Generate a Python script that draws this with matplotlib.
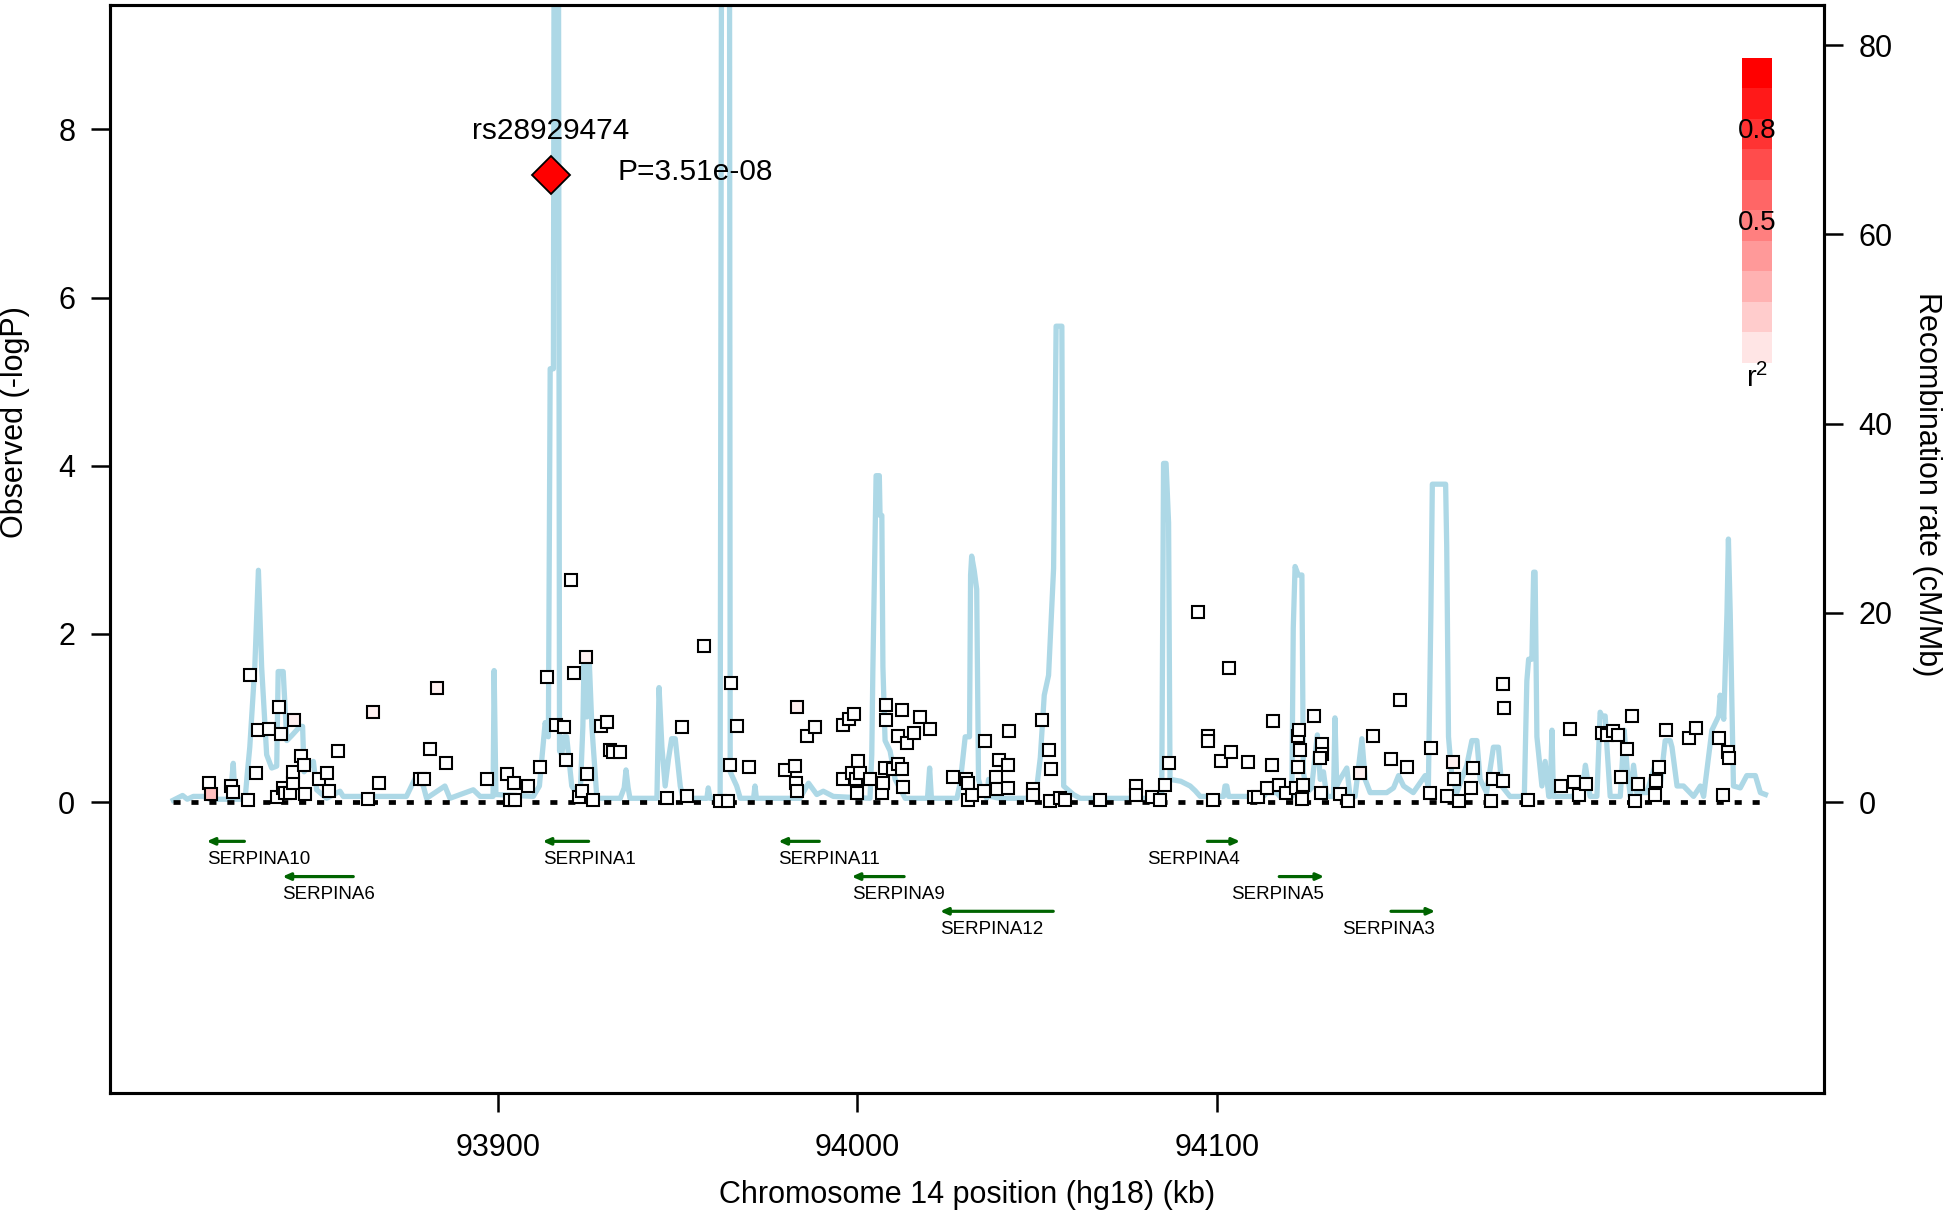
import matplotlib
matplotlib.use("Agg")
import matplotlib.pyplot as plt

plt.rcParams["font.family"] = ["Liberation Sans", "DejaVu Sans"]
plt.rcParams["mathtext.fontset"] = "custom"
plt.rcParams["mathtext.rm"] = "Liberation Sans"
plt.rcParams["mathtext.it"] = "Liberation Sans:italic"

# recombination rate along the region (kb, cM/Mb)
recomb_pos = [
    93809.6, 93812.2, 93813.5, 93815.2, 93818.0, 93819.8, 93825.4, 93825.8, 93826.3, 93826.8,
    93829.6, 93830.2, 93830.9, 93832.3, 93833.3, 93834.2, 93835.6, 93837.0, 93838.4, 93838.8,
    93840.2, 93841.2, 93842.5, 93844.9, 93845.6, 93846.0, 93848.6, 93849.5, 93852.3, 93856.0,
    93856.9, 93874.5, 93877.3, 93879.2, 93880.1, 93885.2, 93886.6, 93893.1, 93895.0, 93898.6,
    93898.9, 93899.4, 93909.8, 93911.5, 93913.1, 93914.0, 93914.5, 93915.4, 93915.6, 93916.8,
    93917.1, 93917.7, 93918.4, 93919.1, 93920.5, 93922.8, 93923.6, 93923.9, 93924.7, 93925.4,
    93926.1, 93927.5, 93934.0, 93935.1, 93935.6, 93936.2, 93936.7, 93944.2, 93944.8, 93945.6,
    93946.5, 93947.4, 93948.3, 93949.3, 93950.7, 93951.5, 93958.1, 93958.5, 93959.0, 93961.8,
    93962.2, 93964.4, 93964.6, 93966.4, 93967.4, 93971.1, 93971.5, 93971.9, 93984.0, 93986.4,
    93988.7, 93990.5, 93993.3, 94003.5, 94004.0, 94004.3, 94005.2, 94006.1, 94006.3, 94006.8,
    94007.1, 94007.7, 94009.1, 94010.5, 94013.3, 94019.5, 94020.1, 94020.6, 94027.7, 94028.6,
    94030.0, 94031.2, 94031.5, 94031.8, 94032.5, 94033.2, 94033.7, 94034.2, 94036.0, 94036.5,
    94036.9, 94039.7, 94049.0, 94049.9, 94050.9, 94052.0, 94053.2, 94054.6, 94055.3, 94056.9,
    94057.4, 94060.1, 94062.0, 94083.3, 94084.7, 94085.2, 94085.9, 94086.6, 94087.0, 94090.0,
    94092.6, 94094.0, 94095.4, 94101.9, 94102.3, 94102.8, 94103.3, 94113.0, 94113.9, 94116.7,
    94117.6, 94120.9, 94121.3, 94121.8, 94122.7, 94123.7, 94124.1, 94125.1, 94126.4, 94128.0,
    94128.8, 94129.7, 94130.6, 94132.5, 94132.9, 94133.4, 94134.3, 94136.2, 94137.1, 94138.5,
    94140.4, 94141.3, 94142.7, 94147.3, 94149.2, 94150.6, 94152.0, 94154.7, 94158.0, 94158.9,
    94159.6, 94160.0, 94163.7, 94164.0, 94164.5, 94165.4, 94166.8, 94169.6, 94171.0, 94172.4,
    94173.3, 94175.1, 94177.0, 94178.4, 94179.3, 94181.6, 94185.6, 94186.3, 94186.8, 94187.7,
    94188.2, 94188.6, 94189.1, 94190.5, 94191.4, 94192.4, 94192.8, 94193.3, 94193.7, 94199.3,
    94201.2, 94202.1, 94202.6, 94203.9, 94205.8, 94206.7, 94207.2, 94208.1, 94208.6, 94209.5,
    94212.3, 94213.4, 94214.2, 94215.1, 94216.0, 94216.9, 94219.7, 94222.0, 94223.4, 94224.8,
    94226.2, 94226.7, 94228.1, 94229.9, 94232.7, 94234.6, 94235.5, 94237.8, 94239.7, 94240.1,
    94241.1, 94242.0, 94242.4, 94242.9, 94243.8, 94245.7, 94247.5, 94249.9, 94251.3, 94252.7,
]
recomb_rate = [
    0.2, 0.7, 0.3, 0.6, 0.6, 0.3, 0.3, 2.0, 4.1, 0.3,
    0.3, 3.0, 5.8, 14.3, 24.5, 14.3, 5.0, 3.6, 3.8, 13.8,
    13.8, 6.5, 7.0, 8.0, 8.0, 3.2, 4.3, 1.3, 0.4, 1.15,
    0.6, 0.6, 2.8, 1.7, 0.4, 1.7, 0.4, 1.3, 0.6, 0.6,
    13.9, 0.8, 0.6, 1.7, 8.4, 6.9, 45.8, 45.8, 95.0, 95.0,
    5.4, 5.0, 6.9, 6.9, 1.7, 0.4, 8.0, 14.7, 9.0, 14.7,
    8.0, 0.4, 0.4, 1.5, 3.4, 1.5, 0.4, 0.4, 12.1, 5.8,
    1.7, 4.5, 6.7, 6.7, 1.7, 0.4, 0.4, 1.5, 0.4, 0.4,
    95.0, 95.0, 3.2, 1.7, 0.4, 0.4, 1.7, 0.4, 0.4, 2.0,
    0.8, 1.15, 0.6, 0.4, 5.0, 13.9, 34.5, 34.5, 30.3, 30.3,
    14.3, 6.5, 5.4, 2.4, 0.4, 0.4, 3.6, 0.4, 0.4, 2.0,
    6.9, 6.9, 24.0, 26.0, 24.5, 22.5, 2.4, 1.7, 0.4, 2.4,
    0.6, 0.4, 0.4, 1.5, 4.7, 11.3, 13.4, 24.7, 50.3, 50.3,
    1.7, 0.8, 0.4, 0.4, 1.0, 35.8, 35.8, 29.5, 2.4, 2.2,
    1.7, 1.2, 0.6, 0.6, 1.7, 1.7, 0.6, 0.6, 1.0, 1.0,
    0.6, 0.6, 18.4, 24.9, 24.0, 24.0, 3.2, 1.0, 1.5, 7.1,
    2.4, 3.2, 0.6, 0.6, 8.9, 1.7, 2.4, 3.6, 0.6, 0.6,
    6.7, 2.4, 1.0, 1.0, 1.5, 2.8, 1.7, 1.0, 2.8, 1.7,
    20.0, 33.6, 33.6, 27.1, 6.9, 2.8, 1.0, 3.9, 6.5, 6.5,
    2.4, 1.0, 5.8, 5.8, 1.7, 0.6, 0.6, 12.8, 15.1, 15.1,
    24.3, 24.3, 6.9, 1.7, 4.3, 0.6, 0.6, 7.6, 0.6, 0.6,
    2.4, 2.4, 3.9, 0.6, 0.6, 9.5, 9.1, 9.1, 5.8, 0.6,
    0.6, 7.6, 3.6, 0.6, 3.9, 1.0, 1.0, 3.9, 1.7, 6.5,
    6.5, 5.8, 1.7, 1.7, 0.6, 1.7, 0.6, 7.6, 9.1, 11.3,
    8.75, 20.0, 27.8, 20.0, 1.7, 1.5, 2.8, 2.8, 1.0, 0.8,
]

# SNPs: position (kb), -log10 P
snp_pos = [
    93819.6, 93820.0, 93825.6, 93826.1, 93830.5, 93830.9, 93832.5, 93833.1, 93836.3, 93839.1,
    93839.5, 93838.4, 93840.2, 93840.7, 93842.1, 93842.8, 93843.0, 93843.3, 93845.2, 93846.1,
    93846.3, 93850.2, 93852.5, 93852.9, 93855.4, 93863.9, 93865.1, 93866.9, 93878.4, 93879.5,
    93881.1, 93883.1, 93885.5, 93896.8, 93902.4, 93904.3, 93903.2, 93904.7, 93908.4, 93911.8,
    93913.5, 93916.0, 93918.4, 93918.9, 93920.3, 93921.1, 93922.4, 93923.3, 93924.6, 93924.7,
    93926.5, 93928.6, 93930.4, 93931.2, 93932.1, 93933.8, 93947.1, 93951.1, 93952.6, 93957.4,
    93961.8, 93963.9, 93964.6, 93964.8, 93966.6, 93969.9, 93979.9, 93982.7, 93982.9, 93983.1,
    93983.3, 93986.1, 93988.2, 93995.9, 93997.8, 93999.1, 93996.1, 93998.4, 93999.6, 93999.8,
    94000.3, 94000.8, 94003.5, 94006.8, 94007.1, 94007.7, 94007.9, 94007.9, 94009.8, 94011.2,
    94011.4, 94012.4, 94012.5, 94012.8, 94013.8, 94015.8, 94017.3, 94020.1, 94026.7, 94030.3,
    94030.7, 94030.7, 94031.8, 94035.3, 94035.6, 94038.6, 94038.8, 94039.5, 94042.0, 94042.0,
    94042.2, 94049.0, 94049.0, 94051.3, 94053.2, 94053.6, 94053.9, 94056.4, 94057.8, 94067.6,
    94077.6, 94077.6, 94081.9, 94084.3, 94085.5, 94086.8, 94094.9, 94103.3, 94097.7, 94097.7,
    94101.2, 94104.0, 94099.1, 94108.8, 94110.4, 94111.6, 94114.1, 94115.6, 94115.3, 94117.4,
    94119.3, 94122.5, 94122.9, 94123.2, 94122.5, 94122.1, 94124.1, 94123.7, 94127.2, 94129.2,
    94129.2, 94128.8, 94129.0, 94134.3, 94136.5, 94140.0, 94143.4, 94148.6, 94151.0, 94153.0,
    94159.6, 94159.4, 94164.0, 94165.7, 94166.1, 94167.5, 94170.7, 94171.2, 94176.3, 94176.8,
    94179.8, 94179.6, 94180.0, 94186.5, 94195.9, 94198.4, 94199.3, 94200.9, 94202.8, 94207.2,
    94208.6, 94210.4, 94211.6, 94212.5, 94214.3, 94215.5, 94216.5, 94217.2, 94222.0, 94222.3,
    94223.1, 94225.0, 94231.3, 94233.4, 94239.7, 94240.9, 94242.3, 94242.7,
]
snp_logp = [
    0.23, 0.10, 0.19, 0.12, 0.03, 1.51, 0.34, 0.86, 0.87, 1.13,
    0.81, 0.06, 0.17, 0.11, 0.11, 0.23, 0.36, 0.98, 0.55, 0.44,
    0.10, 0.27, 0.35, 0.13, 0.61, 0.04, 1.07, 0.23, 0.28, 0.28,
    0.63, 1.36, 0.46, 0.28, 0.33, 0.23, 0.03, 0.02, 0.19, 0.42,
    1.49, 0.92, 0.89, 0.50, 2.64, 1.53, 0.06, 0.13, 1.73, 0.33,
    0.02, 0.91, 0.95, 0.62, 0.60, 0.60, 0.05, 0.89, 0.07, 1.86,
    0.01, 0.01, 0.44, 1.42, 0.91, 0.42, 0.38, 0.43, 0.23, 0.13,
    1.13, 0.78, 0.89, 0.92, 0.99, 1.05, 0.28, 0.34, 0.28, 0.11,
    0.49, 0.34, 0.28, 0.11, 0.23, 0.41, 1.16, 0.98, 0.39, 0.78,
    0.45, 0.39, 1.09, 0.18, 0.70, 0.82, 1.01, 0.87, 0.30, 0.28,
    0.23, 0.03, 0.08, 0.13, 0.73, 0.30, 0.16, 0.50, 0.44, 0.17,
    0.85, 0.15, 0.09, 0.98, 0.62, 0.01, 0.39, 0.05, 0.03, 0.03,
    0.19, 0.09, 0.06, 0.03, 0.20, 0.46, 2.26, 1.60, 0.78, 0.73,
    0.49, 0.59, 0.03, 0.48, 0.06, 0.06, 0.17, 0.96, 0.44, 0.20,
    0.11, 0.79, 0.86, 0.62, 0.42, 0.17, 0.20, 0.04, 1.02, 0.69,
    0.57, 0.53, 0.11, 0.10, 0.01, 0.34, 0.78, 0.51, 1.22, 0.42,
    0.64, 0.11, 0.07, 0.48, 0.28, 0.01, 0.17, 0.41, 0.01, 0.28,
    0.25, 1.41, 1.12, 0.03, 0.19, 0.87, 0.24, 0.08, 0.21, 0.82,
    0.80, 0.84, 0.80, 0.30, 0.63, 1.02, 0.01, 0.21, 0.08, 0.25,
    0.42, 0.86, 0.76, 0.88, 0.76, 0.09, 0.59, 0.53,
]
# r2 with the top SNP: almost all near zero, a few faintly pink
snp_r2 = [0.0] * len(snp_pos)
snp_r2[1] = 0.25
for i in (17, 26, 31, 48, 70, 155, 163):
    snp_r2[i] = 0.06

top_snp = "rs28929474"
top_pos = 93914.7
top_logp = 7.455
top_p_label = "P=3.51e-08"

gene_names = ["SERPINA10", "SERPINA6", "SERPINA1", "SERPINA11", "SERPINA9",
              "SERPINA12", "SERPINA4", "SERPINA5", "SERPINA3"]
gene_start = [93818.9, 93840.0, 93912.4, 93978.0, 93998.4, 94023.0, 94097.4, 94117.4, 94148.5]
gene_end = [93829.4, 93859.7, 93925.2, 93989.4, 94013.0, 94054.5, 94106.5, 94129.9, 94160.8]
gene_strand = ["-", "-", "-", "-", "-", "-", "+", "+", "+"]
gene_row = [0, 1, 0, 0, 1, 2, 0, 1, 2]

r2_levels = [0.1, 0.2, 0.3, 0.4, 0.5, 0.6, 0.7, 0.8, 0.9, 1.0]


def r2_color(r2):
    a = max(r2, 0.0)
    return (1.0, 1.0 - a, 1.0 - a)


fig = plt.figure(figsize=(19.46, 12.15), dpi=100)
ax = fig.add_axes([110 / 1946, 122 / 1215, 1714 / 1946, 1088 / 1215])
ax2 = ax.twinx()

ymin, ymax = -3.46, 9.48
ratio = 8.887
ax.set_ylim(ymin, ymax)
ax2.set_ylim(ymin * ratio, ymax * ratio)
ax.set_xlim(93792, 94269)

# recombination rate behind everything
ax2.plot(recomb_pos, recomb_rate, color="#add8e6", linewidth=3.8, zorder=1)
ax.set_zorder(ax2.get_zorder() + 1)
ax.patch.set_visible(False)

# baseline
ax.plot([recomb_pos[0], recomb_pos[-1]], [0, 0], color="black", linewidth=3.4,
        linestyle=(0, (1.5, 2.3)), zorder=2)

# SNPs
for x, y, r in zip(snp_pos, snp_logp, snp_r2):
    ax.plot(x, y, marker="s", markersize=9.3, markeredgewidth=1.5,
            markeredgecolor="black", markerfacecolor=r2_color(r),
            linestyle="none", zorder=3)

# top SNP
ax.plot(top_pos, top_logp, marker="D", markersize=19, markerfacecolor="red",
        markeredgecolor="black", markeredgewidth=1.3, linestyle="none", zorder=4)
ax.text(top_pos, top_logp + 0.53, top_snp, fontsize=21.5, ha="center", va="center")
ax.text(top_pos + 18.4, top_logp + 0.04, top_p_label, fontsize=21.5, ha="left", va="center")

# genes
row_y = [-0.467, -0.886, -1.299]
for name, s, e, strand, row in zip(gene_names, gene_start, gene_end, gene_strand, gene_row):
    y = row_y[row]
    if strand == "-":
        tail, head = e, s
        ax.text(s, y - 0.215, name, fontsize=13.5, ha="left", va="center")
    else:
        tail, head = s, e
        ax.text(e, y - 0.215, name, fontsize=13.5, ha="right", va="center")
    ax.annotate("", xy=(head, y), xytext=(tail, y),
                arrowprops=dict(arrowstyle="-|>,head_length=0.45,head_width=0.2",
                                color="#006400", lw=2.3, shrinkA=0, shrinkB=0))

# axes styling
ax.set_xticks([93900, 94000, 94100])
ax.set_yticks([0, 2, 4, 6, 8])
ax2.set_yticks([0, 20, 40, 60, 80])
for a in (ax, ax2):
    for sp in a.spines.values():
        sp.set_linewidth(2.2)
ax.tick_params(axis="both", length=14, width=1.8, labelsize=22)
ax.tick_params(axis="y", pad=11)
ax.tick_params(axis="x", pad=15)
ax2.tick_params(axis="y", length=14, width=1.8, labelsize=22, pad=11)

ax.set_xlabel("Chromosome 14 position (hg18) (kb)", fontsize=22, labelpad=12)
ax.set_ylabel("Observed (-logP)", fontsize=22, va="center")
ax.yaxis.set_label_coords(-0.0554, 0.617)
ax2.set_ylabel("Recombination rate (cM/Mb)", fontsize=22, rotation=270, va="center")
ax2.yaxis.set_label_coords(1.060, 0.56)

# r2 colour key
kax = fig.add_axes([1742 / 1946, (1215 - 363) / 1215, 30 / 1946, 305 / 1215])
for i, lv in enumerate(r2_levels):
    kax.bar(0.5, 0.1, bottom=i * 0.1, width=1.0, color=(1.0, 0, 0, lv), linewidth=0)
kax.set_xlim(0, 1)
kax.set_ylim(0, 1)
kax.axis("off")
kax.text(0.5, 0.76, "0.8", fontsize=20, ha="center", va="center")
kax.text(0.5, 0.46, "0.5", fontsize=20, ha="center", va="center")
kax.text(0.5, -0.05, r"$\mathrm{r}^2$", fontsize=21, ha="center", va="center")

fig.savefig("out.png", dpi=100)
